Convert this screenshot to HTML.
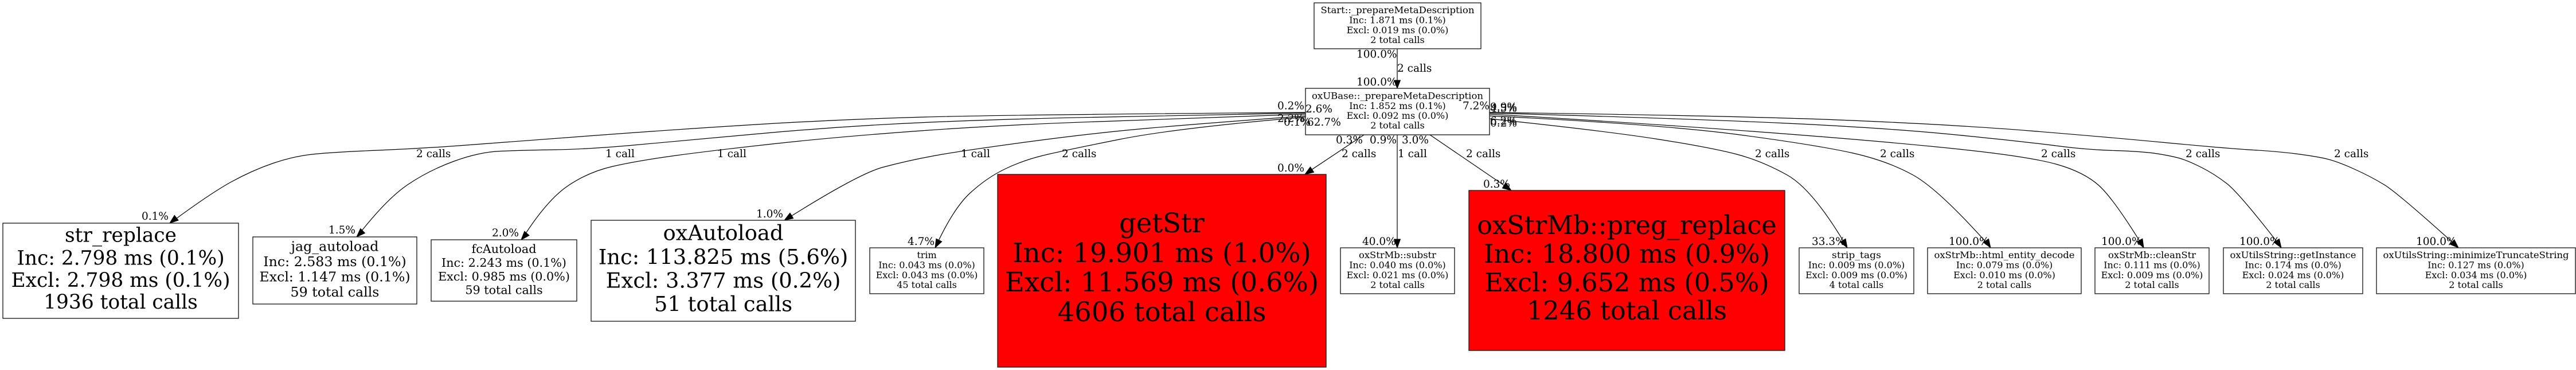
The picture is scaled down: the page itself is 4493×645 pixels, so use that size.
<!DOCTYPE html>
<html><head><meta charset="utf-8"><title>Call graph</title>
<style>
html,body{margin:0;padding:0;background:#fff}
svg{display:block}
text{font-family:"DejaVu Serif","Liberation Serif",serif;fill:#000}
.n text{text-anchor:middle}
.e{fill:none;stroke:#000;stroke-width:1.2}
.a{fill:#000;stroke:#000;stroke-width:1}
.b{fill:#fff;stroke:#222;stroke-width:1.4}
.r{fill:#f00;stroke:#222;stroke-width:1.4}
.l{font-size:18.5px}
</style></head>
<body>
<svg width="4493" height="645" viewBox="0 0 4493 645" xmlns="http://www.w3.org/2000/svg">
<rect width="4493" height="645" fill="#fff"/>

<!-- edges -->
<path class="e" d="M2437 85V150"/>
<path class="e" d="M2277 196Q1760 200 1613 204Q1466 208 1319.5 217Q1173 226 1026.5 237Q880 248 806.5 253.5Q733 259 659.5 262Q586 265 549.5 268.5Q513 272 476.5 284.5Q440 297 403.5 317Q367 337 298 388"/>
<path class="e" d="M2277 197Q2100 201 1930 204Q1760 207 1613 213.5Q1466 220 1319.5 233.5Q1173 247 1099.5 253.5Q1026 260 967.5 261Q909 262 872.5 263.5Q836 265 792 281Q748 297 711 322Q674 347 624 411"/>
<path class="e" d="M2277 199Q2100 206 1930 211.5Q1760 217 1613 227.5Q1466 238 1356 250Q1246 262 1179.5 271Q1113 280 1069 290Q1025 300 989 325Q953 350 911 416"/>
<path class="e" d="M2277 202Q2100 215 2003 223.5Q1906 232 1791 247.5Q1676 263 1629.5 271.5Q1583 280 1540 291.5Q1497 303 1370 383"/>
<path class="e" d="M2277 204Q2053 223 1952.5 243Q1852 263 1817.5 271.5Q1783 280 1752 295Q1721 310 1692 336.5Q1663 363 1632 430"/>
<path class="e" d="M2379 235L2280 301"/>
<path class="e" d="M2437 235V428"/>
<path class="e" d="M2494 235L2632 329"/>
<path class="e" d="M2598 207Q2798 228 2890.5 242.5Q2983 257 3027.5 268.5Q3072 280 3117 305Q3162 330 3221 430"/>
<path class="e" d="M2598 202Q2900 217 3034.5 235Q3169 253 3230 266.5Q3291 280 3336.5 305Q3382 330 3471 430"/>
<path class="e" d="M2598 199Q2900 217 3096.5 232Q3293 247 3416.5 260Q3540 273 3587.5 286.5Q3635 300 3661 323.5Q3687 347 3738 430"/>
<path class="e" d="M2598 197Q2921 206 3107 214.5Q3293 223 3416.5 235.5Q3540 248 3589.5 254.5Q3639 261 3688.5 262.5Q3738 264 3763 268Q3788 272 3802 276Q3816 280 3839 291.5Q3862 303 3884 320Q3906 337 3978 430"/>
<path class="e" d="M2598 196Q3045 202 3230.5 210Q3416 218 3540 228Q3664 238 3775.5 248.5Q3887 259 3930 261.5Q3973 264 4004 268Q4035 272 4054 276Q4073 280 4103.5 293.5Q4134 307 4158.5 322Q4183 337 4286 430"/>

<!-- arrowheads -->
<polygon class="a" points="2437,154 2431.5,140 2442.5,140"/>
<polygon class="a" points="296,389 311.1,384 304.3,375.4"/>
<polygon class="a" points="622,413 636.5,406.3 628.7,398.5"/>
<polygon class="a" points="909,418 923,410.4 914.8,403.2"/>
<polygon class="a" points="1368,384 1383.7,380.7 1377.9,371.3"/>
<polygon class="a" points="1631,432 1642.7,421.1 1632.9,416.1"/>
<polygon class="a" points="2276,304 2291.6,300.2 2285.4,291"/>
<polygon class="a" points="2437,432 2431.5,417 2442.5,417"/>
<polygon class="a" points="2636,332 2620.5,328 2626.7,319"/>
<polygon class="a" points="3222,432 3209.6,421.9 3219,416.3"/>
<polygon class="a" points="3472,432 3459.3,422.4 3468.5,416.4"/>
<polygon class="a" points="3739,432 3727.2,421.4 3736.8,416.2"/>
<polygon class="a" points="3979,432 3966.2,422.4 3975.4,416.4"/>
<polygon class="a" points="4288,432 4273.3,425.8 4280.7,417.8"/>

<!-- nodes -->
<g class="n">
<rect class="b" x="2292" y="5" width="291" height="80"/>
<g font-size="16"><text x="2437.5" y="23" textLength="268" lengthAdjust="spacingAndGlyphs">Start::_prepareMetaDescription</text><text x="2437.5" y="40.5">Inc: 1.871 ms (0.1%)</text><text x="2437.5" y="58">Excl: 0.019 ms (0.0%)</text><text x="2437.5" y="75">2 total calls</text></g>

<rect class="b" x="2277" y="154" width="321" height="81"/>
<g font-size="16"><text x="2437.5" y="172.5" textLength="299" lengthAdjust="spacingAndGlyphs">oxUBase::_prepareMetaDescription</text><text x="2437.5" y="190">Inc: 1.852 ms (0.1%)</text><text x="2437.5" y="207">Excl: 0.092 ms (0.0%)</text><text x="2437.5" y="224">2 total calls</text></g>

<rect class="b" x="5" y="389" width="411" height="166"/>
<g font-size="34.4"><text x="210.5" y="421.5">str_replace</text><text x="210.5" y="461.5">Inc: 2.798 ms (0.1%)</text><text x="210.5" y="500">Excl: 2.798 ms (0.1%)</text><text x="210.5" y="538">1936 total calls</text></g>

<rect class="b" x="441" y="413" width="286" height="117"/>
<g font-size="23.7"><text x="584" y="437.5">jag_autoload</text><text x="584" y="464">Inc: 2.583 ms (0.1%)</text><text x="584" y="490.5">Excl: 1.147 ms (0.1%)</text><text x="584" y="517">59 total calls</text></g>

<rect class="b" x="752" y="418" width="254" height="107"/>
<g font-size="20.7"><text x="879" y="441">fcAutoload</text><text x="879" y="465">Inc: 2.243 ms (0.1%)</text><text x="879" y="489">Excl: 0.985 ms (0.0%)</text><text x="879" y="512.5">59 total calls</text></g>

<rect class="b" x="1031" y="384" width="461" height="176"/>
<g font-size="36.9"><text x="1261.5" y="418.5">oxAutoload</text><text x="1261.5" y="460.5">Inc: 113.825 ms (5.6%)</text><text x="1261.5" y="501.5">Excl: 3.377 ms (0.2%)</text><text x="1261.5" y="542.5">51 total calls</text></g>

<rect class="b" x="1517" y="432" width="199" height="80"/>
<g font-size="16"><text x="1616.5" y="450">trim</text><text x="1616.5" y="467.5">Inc: 0.043 ms (0.0%)</text><text x="1616.5" y="485">Excl: 0.043 ms (0.0%)</text><text x="1616.5" y="502">45 total calls</text></g>

<rect class="r" x="1740" y="304" width="573" height="336"/>
<g font-size="46.6"><text x="2026.5" y="405">getStr</text><text x="2026.5" y="457">Inc: 19.901 ms (1.0%)</text><text x="2026.5" y="508">Excl: 11.569 ms (0.6%)</text><text x="2026.5" y="560">4606 total calls</text></g>

<rect class="b" x="2338" y="432" width="199" height="80"/>
<g font-size="16"><text x="2437.5" y="450" textLength="135" lengthAdjust="spacingAndGlyphs">oxStrMb::substr</text><text x="2437.5" y="467.5">Inc: 0.040 ms (0.0%)</text><text x="2437.5" y="485">Excl: 0.021 ms (0.0%)</text><text x="2437.5" y="502">2 total calls</text></g>

<rect class="r" x="2562" y="332" width="551" height="279"/>
<g font-size="44.7"><text x="2837.5" y="408">oxStrMb::preg_replace</text><text x="2837.5" y="458">Inc: 18.800 ms (0.9%)</text><text x="2837.5" y="508">Excl: 9.652 ms (0.5%)</text><text x="2837.5" y="557">1246 total calls</text></g>

<rect class="b" x="3138" y="432" width="200" height="80"/>
<g font-size="16"><text x="3238" y="450" textLength="86" lengthAdjust="spacingAndGlyphs">strip_tags</text><text x="3238" y="467.5">Inc: 0.009 ms (0.0%)</text><text x="3238" y="485">Excl: 0.009 ms (0.0%)</text><text x="3238" y="502">4 total calls</text></g>

<rect class="b" x="3362" y="432" width="268" height="80"/>
<g font-size="16"><text x="3496" y="450" textLength="245" lengthAdjust="spacingAndGlyphs">oxStrMb::html_entity_decode</text><text x="3496" y="467.5">Inc: 0.079 ms (0.0%)</text><text x="3496" y="485">Excl: 0.010 ms (0.0%)</text><text x="3496" y="502">2 total calls</text></g>

<rect class="b" x="3654" y="432" width="199" height="80"/>
<g font-size="16"><text x="3753.5" y="450" textLength="153" lengthAdjust="spacingAndGlyphs">oxStrMb::cleanStr</text><text x="3753.5" y="467.5">Inc: 0.111 ms (0.0%)</text><text x="3753.5" y="485">Excl: 0.009 ms (0.0%)</text><text x="3753.5" y="502">2 total calls</text></g>

<rect class="b" x="3878" y="432" width="243" height="80"/>
<g font-size="16"><text x="3999.5" y="450" textLength="220" lengthAdjust="spacingAndGlyphs">oxUtilsString::getInstance</text><text x="3999.5" y="467.5">Inc: 0.174 ms (0.0%)</text><text x="3999.5" y="485">Excl: 0.024 ms (0.0%)</text><text x="3999.5" y="502">2 total calls</text></g>

<rect class="b" x="4145" y="432" width="347" height="80"/>
<g font-size="16"><text x="4318.5" y="450" textLength="324" lengthAdjust="spacingAndGlyphs">oxUtilsString::minimizeTruncateString</text><text x="4318.5" y="467.5">Inc: 0.127 ms (0.0%)</text><text x="4318.5" y="485">Excl: 0.034 ms (0.0%)</text><text x="4318.5" y="502">2 total calls</text></g>
</g>

<!-- edge labels -->
<g class="l">
<text x="2366" y="100.5">100.0%</text>
<text x="2437" y="125">2 calls</text>
<text x="2366" y="149">100.0%</text>

<text x="2228" y="190.5">0.2%</text>
<text x="2277" y="196">2.6%</text>
<text x="2228" y="212.5">2.2%</text>
<text x="2239" y="219">0.1%</text>
<text x="2280" y="219">62.7%</text>
<text x="2551" y="190.5">7.2%</text>
<text x="2599" y="192.5">9.9%</text>
<text x="2599" y="195">4.5%</text>
<text x="2599" y="217">6.2%</text>
<text x="2599" y="220.5">0.2%</text>
<text x="2330" y="250">0.3%</text>
<text x="2389" y="250">0.9%</text>
<text x="2445" y="250">3.0%</text>

<text x="726" y="274">2 calls</text>
<text x="1056" y="274">1 call</text>
<text x="1251" y="274">1 call</text>
<text x="1676" y="274">1 call</text>
<text x="1852" y="274">2 calls</text>
<text x="2340" y="274">2 calls</text>
<text x="2438" y="274">1 call</text>
<text x="2557" y="274">2 calls</text>
<text x="3061" y="274">2 calls</text>
<text x="3279" y="274">2 calls</text>
<text x="3560" y="274">2 calls</text>
<text x="3812" y="274">2 calls</text>
<text x="4071" y="274">2 calls</text>

<text x="247" y="383">0.1%</text>
<text x="573" y="407">1.5%</text>
<text x="858" y="412">2.0%</text>
<text x="1319" y="379">1.0%</text>
<text x="1583" y="427">4.7%</text>
<text x="2228" y="299">0.0%</text>
<text x="2376" y="427">40.0%</text>
<text x="2587" y="327">0.3%</text>
<text x="3160" y="427">33.3%</text>
<text x="3399" y="427">100.0%</text>
<text x="3665" y="427">100.0%</text>
<text x="3906" y="427">100.0%</text>
<text x="4214" y="427">100.0%</text>
</g>
</svg>
</body></html>
